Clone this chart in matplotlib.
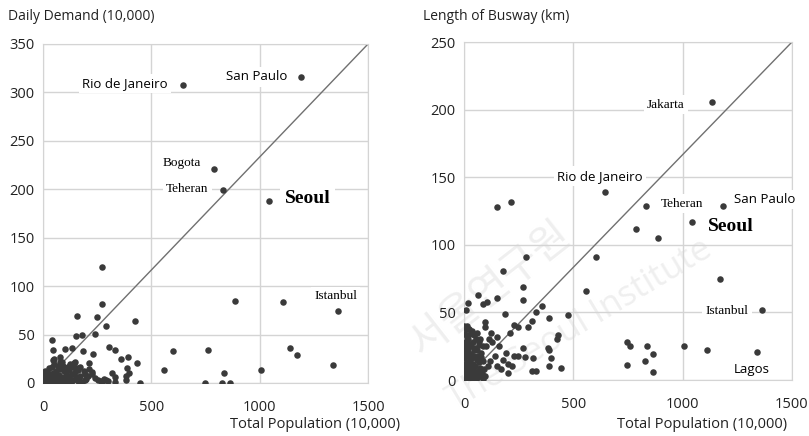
"""
Busway demand / length vs total population, two scatter panels
"""
import numpy as np
import matplotlib.pyplot as plt

plt.rcParams['font.family'] = ['Open Sans', 'DejaVu Sans']

# ---- left panel: daily demand (10,000) vs population (10,000)
left_pop = [273, 271, 159, 251, 291, 426, 242, 179, 152, 41,
            884, 1107, 1140, 1172, 1340, 1007, 763, 602, 557, 837, 748, 828, 863, 447,
            306, 331, 185, 229, 358, 390, 433, 389, 213, 143, 133, 103, 80, 44, 44, 40,
            319, 334, 385, 397, 214, 208, 193, 254, 269, 300, 385, 117, 148, 172, 117,
            52, 78, 148, 115, 162, 226, 272, 332, 290,
            5, 10, 15, 20, 25, 30, 35, 40, 45, 50, 55, 60, 65, 70, 75, 80, 85, 90, 95, 100,
            105, 110, 120, 125, 130, 135, 140, 155, 160, 165, 180, 190, 200, 2, 8, 28, 52, 68,
            88, 60, 12, 18, 38, 48, 58, 78, 98, 125, 137, 150, 170, 195, 225, 240, 280,
            22, 32, 42, 62, 72, 82, 92, 102]
left_demand = [120, 82, 69, 68, 59, 64, 51, 50, 48, 44,
               85, 84, 36, 29, 19, 13, 34, 33, 13, 10, 0, 0, 0, 0,
               37, 34, 33, 30, 25, 27, 21, 15, 21, 21, 36, 35, 27, 34, 24, 16,
               10, 6, 7, 10, 14, 7, 3, 3, 2, 2, 3, 17, 11, 7, 7,
               25, 22, 22, 16, 13, 11, 1, 1, 3,
               8, 3, 1, 5, 2, 8, 0, 4, 10, 2, 6, 12, 3, 0, 8, 14, 4, 18, 1, 6,
               10, 2, 13, 4, 0, 9, 3, 15, 2, 5, 1, 12, 4, 2, 12, 15, 20, 18,
               22, 5, 7, 0, 1, 6, 0, 2, 12, 20, 17, 6, 16, 9, 9, 5, 4,
               10, 4, 0, 9, 1, 6, 3, 0]

left_city = ['Rio de Janeiro', 'San Paulo', 'Bogota', 'Teheran', 'Seoul', 'Istanbul']
left_city_pop = [646, 1191, 790, 832, 1041, 1360]
left_city_val = [308, 316, 221, 199, 188, 74]

# ---- right panel: busway length (km) vs population (10,000)
right_pop = [151, 215, 786, 887, 604, 1171, 558, 476, 745, 759, 836, 865, 1006, 1111, 828, 745, 864,
             283, 178, 64, 18, 9, 87, 105, 151, 270, 270, 187, 329, 357, 311, 389, 229, 247, 293,
             210, 430, 425, 270, 384, 389, 398, 247, 279, 315, 389, 444, 201, 311, 330, 96, 96, 151,
             130, 160, 180, 200, 220, 140, 120, 110, 170, 190, 230, 150, 100, 115, 125, 60, 70,
             2, 8, 15, 22, 5, 12, 20, 28, 35, 45, 55, 3, 10, 18, 25, 33, 40, 50, 60, 70, 80,
             5, 12, 20, 30, 38, 48, 58, 68, 78, 88, 4, 10, 16, 24, 32, 42, 52, 62, 72, 82, 92,
             2, 8, 14, 22, 30, 38, 46, 56, 66, 76, 86, 6, 18, 28, 96, 40, 26, 55, 65, 75, 85,
             45, 35, 15, 0, 0, 0]
right_busway = [128, 132, 112, 105, 91, 75, 66, 48, 28, 25, 25, 19, 25, 22, 14, 11, 6,
                91, 81, 63, 57, 52, 56, 58, 61, 69, 59, 49, 50, 55, 44, 46, 41, 39, 39,
                35, 33, 30, 24, 24, 22, 16, 18, 17, 16, 10, 9, 5, 7, 7, 43, 39, 32,
                28, 25, 15, 12, 10, 18, 14, 10, 8, 20, 18, 10, 25, 30, 35, 35, 28,
                40, 38, 40, 38, 34, 32, 30, 34, 36, 33, 30, 28, 26, 24, 27, 25, 28, 24, 22, 26, 20,
                20, 18, 21, 19, 16, 18, 15, 13, 17, 14, 12, 10, 13, 9, 11, 8, 10, 7, 9, 5, 8,
                5, 3, 6, 2, 4, 1, 3, 0, 2, 4, 1, 0, 1, 0, 3, 12, 15, 5, 18, 30, 25,
                22, 6, 8, 16, 24, 8]

right_city = ['Jakarta', 'Rio de Janeiro', 'Teheran', 'San Paulo', 'Seoul', 'Istanbul', 'Lagos']
right_city_pop = [1134, 645, 832, 1185, 1042, 1363, 1340]
right_city_val = [206, 139, 129, 129, 117, 52, 21]

# label style: (offset in pixels, font kind)
sans = dict(family=['Open Sans', 'DejaVu Sans'], fontsize=9.5)
serif = dict(family=['Liberation Serif', 'DejaVu Serif'], fontsize=9.5)
bold = dict(family=['Liberation Serif', 'DejaVu Serif'], fontsize=14, fontweight='bold')
left_style = {'Rio de Janeiro': ((-58, 1), sans), 'San Paulo': ((-44, 0), sans),
              'Bogota': ((-32, 6), serif), 'Teheran': ((-36, 1), serif),
              'Seoul': ((39, 2), bold), 'Istanbul': ((-2, 15), serif)}
right_style = {'Jakarta': ((-46, -3), serif), 'Rio de Janeiro': ((-5, 16), sans),
               'Teheran': ((36, 2), serif), 'San Paulo': ((42, 6), sans),
               'Seoul': ((39, -5), bold), 'Istanbul': ((-35, -1), serif),
               'Lagos': ((-5, -18), sans)}

fig = plt.figure(figsize=(8.09, 4.36), dpi=100)
ax1 = fig.add_axes([0.0532, 0.1216, 0.4017, 0.7775])
ax2 = fig.add_axes([0.5735, 0.1284, 0.4054, 0.7752])

dot = '#3a3a3a'
grid = '#d4d4d4'


def panel(ax, px, py, cities, cpx, cpy, style, ymax, ystep, xlab_pad):
    ax.patch.set_alpha(0)
    ax.plot([0, 1500], [0, ymax], color='#707070', lw=1.0, zorder=2)
    ax.scatter(px, py, s=22, color=dot, zorder=3, linewidths=0)
    ax.scatter(cpx, cpy, s=22, color=dot, zorder=3, linewidths=0)
    for name, x, y in zip(cities, cpx, cpy):
        off, font = style[name]
        ax.annotate(name, (x, y), xytext=off, textcoords='offset pixels',
                    ha='center', va='center', zorder=4, color='black',
                    bbox=dict(boxstyle='square,pad=0.25', fc='white', ec='none'),
                    **font)
    ax.set_xlim(0, 1500)
    ax.set_ylim(0, ymax)
    ax.set_xticks([0, 500, 1000, 1500])
    ax.set_yticks(np.arange(0, ymax + 1, ystep))
    ax.grid(True, color=grid, lw=1.0, zorder=0)
    ax.set_axisbelow(True)
    for sp in ax.spines.values():
        sp.set_color(grid)
    ax.tick_params(length=0, labelsize=10.5, colors='#222222')
    ax.tick_params(axis='x', pad=xlab_pad)
    ax.tick_params(axis='y', pad=6)


panel(ax1, left_pop, left_demand, left_city, left_city_pop, left_city_val,
      left_style, 350, 50, 12)
panel(ax2, right_pop, right_busway, right_city, right_city_pop, right_city_val,
      right_style, 250, 50, 12)

# axis titles
fig.text(8 / 809, 1 - 16 / 436, 'Daily Demand (10,000)', fontsize=10, va='center', color='#222222')
fig.text(423 / 809, 1 - 17 / 436, 'Length of Busway (km)', fontsize=10, va='center', color='#222222')
fig.text(400 / 809, 1 - 424 / 436, 'Total Population (10,000)', fontsize=10.5,
         ha='right', va='center', color='#222222')
fig.text(787 / 809, 1 - 424 / 436, 'Total Population (10,000)', fontsize=10.5,
         ha='right', va='center', color='#222222')

# faint watermark
fig.text(0.606, 0.335, '서울연구원', fontsize=30, rotation=38, color='#efefef',
         family=['Noto Sans CJK KR', 'DejaVu Sans'], ha='center', va='center', zorder=-1)
fig.text(0.717, 0.255, 'The Seoul Institute', fontsize=25, rotation=31, color='#efefef',
         ha='center', va='center', zorder=-1)

fig.savefig('out.png', dpi=100, facecolor='white')
